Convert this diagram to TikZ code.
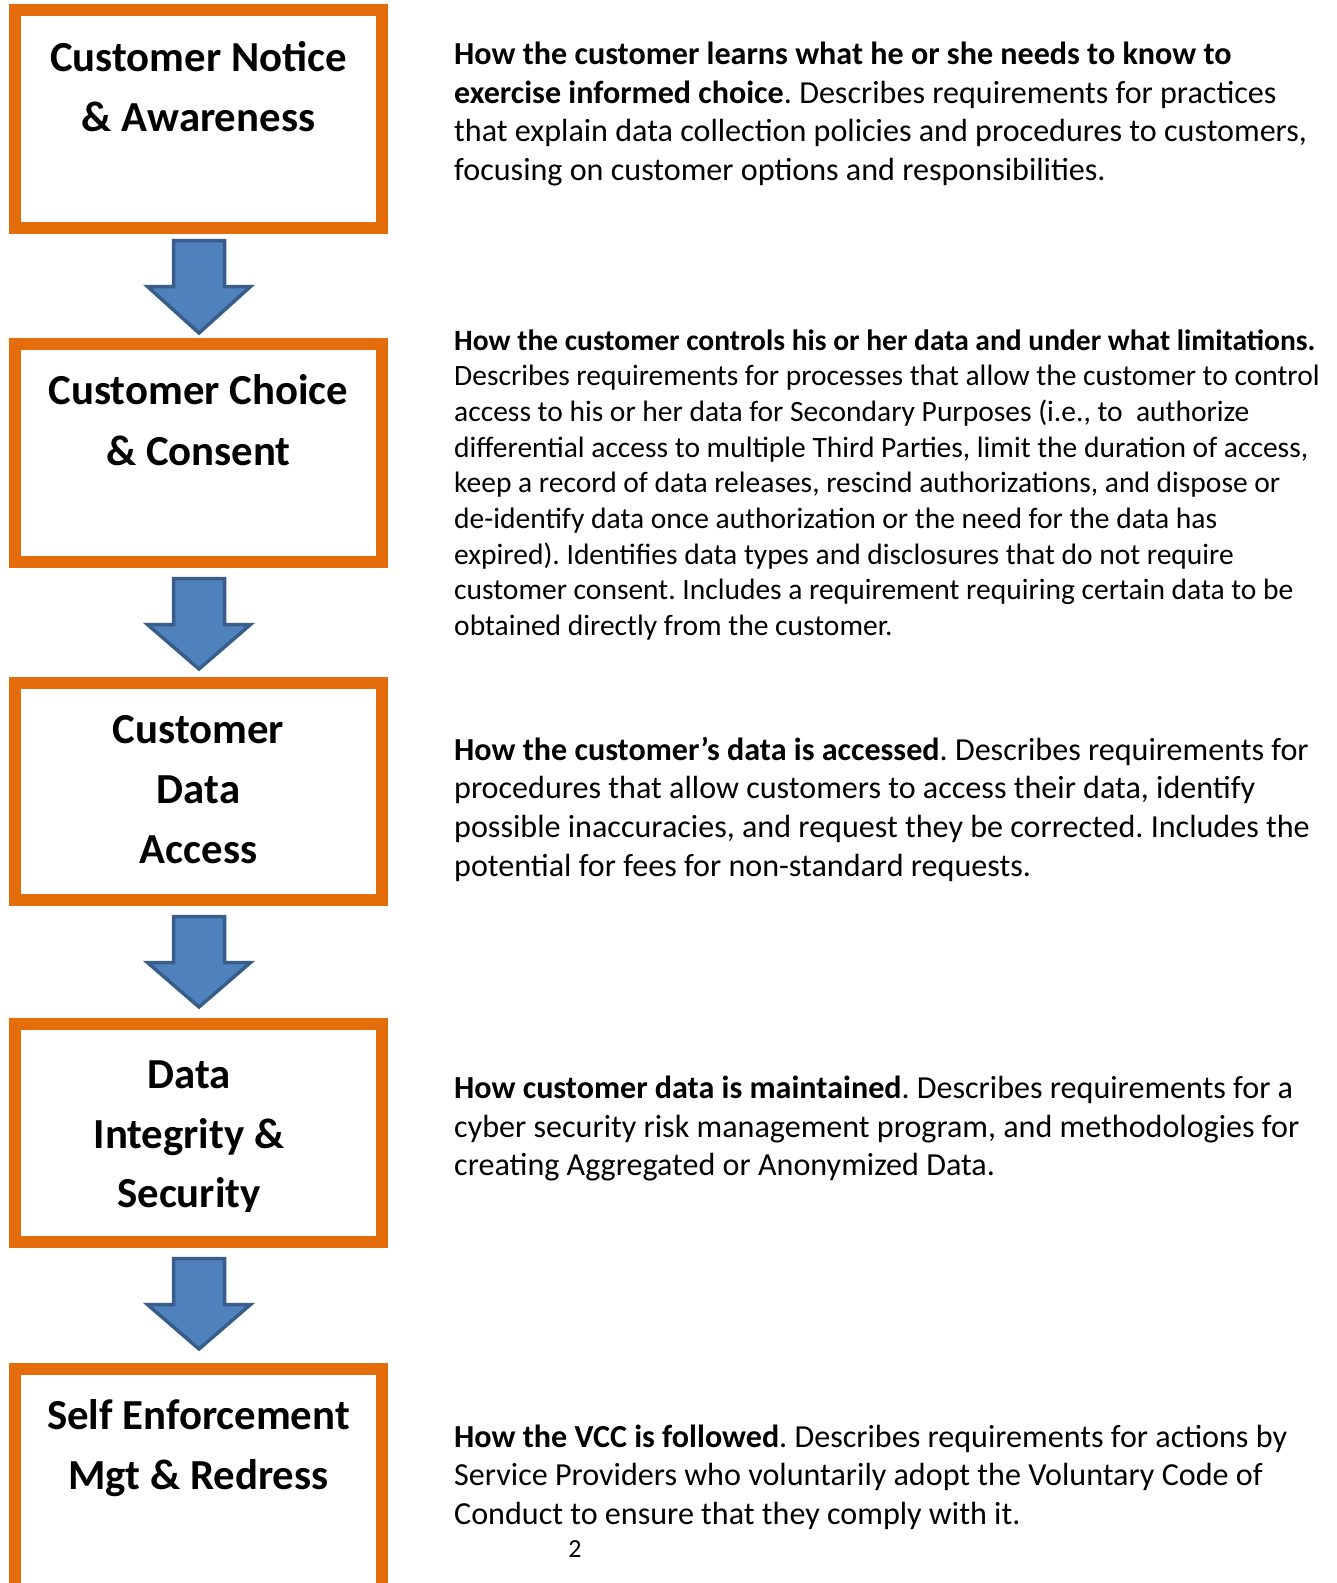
\documentclass[tikz,border=0pt]{standalone}
\usepackage{fontspec}
\setmainfont{Carlito}
\frenchspacing
\definecolor{boxorange}{RGB}{228,108,10}
\definecolor{arrowfill}{RGB}{79,129,189}
\definecolor{arrowline}{RGB}{56,93,138}
\tikzset{
  stagebox/.style={draw=boxorange, line width=12pt, fill=white, rectangle,
    minimum width=367pt, inner sep=0pt, outer sep=0pt},
  downarrow/.style={fill=arrowfill, draw=arrowline, line width=3.5pt, line join=miter},
  titletext/.style={font=\fontsize{42.8}{50}\selectfont\bfseries, anchor=base, inner sep=0pt},
  bodytext/.style={font=\fontsize{32.1}{38}\selectfont, anchor=base west, inner sep=0pt},
  smalltext/.style={font=\fontsize{29.5}{35}\selectfont, anchor=base west, inner sep=0pt},
}
\newcommand{\flowarrow}[2]{%
  \draw[downarrow] (173.5,#1) -- (224.5,#1) -- (224.5,#1+46) -- (250.5,#1+46)
    -- (199,#2) -- (147.5,#1+46) -- (173.5,#1+46) -- cycle;}
\begin{document}
\begin{tikzpicture}[x=1pt,y=-1pt]
\clip (0,0) rectangle (1337,1583);
\fill[white] (0,0) rectangle (1337,1583);

% boxes
\node[stagebox, minimum height=218pt] (box1) at (198.5,119) {};
\node[stagebox, minimum height=218pt] (box2) at (198.5,453) {};
\node[stagebox, minimum height=217pt] (box3) at (198.5,791.5) {};
\node[stagebox, minimum height=218pt] (box4) at (198.5,1133) {};
\node[stagebox, minimum height=240pt] (box5) at (198.5,1489) {};

% arrows
\flowarrow{240.5}{333}
\flowarrow{578.5}{669}
\flowarrow{916.5}{1007}
\flowarrow{1258.5}{1349}

% titles
\node[titletext] (t1a) at (198.5,71.5) {Customer Notice};
\node[titletext] (t1b) at (198.5,131) {\& Awareness};
\node[titletext] (t2a) at (198.5,404.5) {Customer Choice};
\node[titletext] (t2b) at (198.5,465) {\& Consent};
\node[titletext] (t3a) at (198.5,743.5) {Customer};
\node[titletext] (t3b) at (198.5,803) {Data};
\node[titletext] (t3c) at (198.5,863) {Access};
\begin{scope}
  \clip (21,1030) rectangle (377,1211);
  \node[titletext] (t4a) at (189,1088.5) {Data};
  \node[titletext] (t4b) at (189,1148) {Integrity \&};
  \node[titletext] (t4c) at (189,1207.5) {Security};
\end{scope}
\node[titletext] (t5a) at (198.5,1429.5) {Self Enforcement};
\node[titletext] (t5b) at (198.5,1489) {Mgt \& Redress};

% block 1
\node[bodytext] (d1a) at (454,64.5) {\textbf{How the customer learns what he or she needs to know to}};
\node[bodytext] (d1b) at (454,103.1) {\textbf{exercise informed choice}. Describes requirements for practices};
\node[bodytext] (d1c) at (454,141.7) {that explain data collection policies and procedures to customers,};
\node[bodytext] (d1d) at (454,180.3) {focusing on customer options and responsibilities.};

% block 2
\node[smalltext] (d2a) at (454,350) {\textbf{How the customer controls his or her data and under what limitations.}};
\node[smalltext] (d2b) at (454,385.7) {Describes requirements for processes that allow the customer to control};
\node[smalltext] (d2c) at (454,421.4) {access to his or her data for Secondary Purposes (i.e., to\ \ authorize};
\node[smalltext] (d2d) at (454,457.1) {differential access to multiple Third Parties, limit the duration of access,};
\node[smalltext] (d2e) at (454,492.8) {keep a record of data releases, rescind authorizations, and dispose or};
\node[smalltext] (d2f) at (454,528.5) {de-identify data once authorization or the need for the data has};
\node[smalltext] (d2g) at (454,564.2) {expired). Identifies data types and disclosures that do not require};
\node[smalltext] (d2h) at (454,599.9) {customer consent. Includes a requirement requiring certain data to be};
\node[smalltext] (d2i) at (454,635.6) {obtained directly from the customer.};

% block 3
\node[bodytext] (d3a) at (454,760) {\textbf{How the customer’s data is accessed}. Describes requirements for};
\node[bodytext] (d3b) at (454,798.7) {procedures that allow customers to access their data, identify};
\node[bodytext] (d3c) at (454,837.4) {possible inaccuracies, and request they be corrected. Includes the};
\node[bodytext] (d3d) at (454,876.1) {potential for fees for non-standard requests.};

% block 4
\node[bodytext] (d4a) at (454,1098.5) {\textbf{How customer data is maintained}. Describes requirements for a};
\node[bodytext] (d4b) at (454,1137.2) {cyber security risk management program, and methodologies for};
\node[bodytext] (d4c) at (454,1175.9) {creating Aggregated or Anonymized Data.};

% block 5
\node[bodytext] (d5a) at (454,1447) {\textbf{How the VCC is followed}. Describes requirements for actions by};
\node[bodytext] (d5b) at (454,1485.7) {Service Providers who voluntarily adopt the Voluntary Code of};
\node[bodytext] (d5c) at (454,1524.4) {Conduct to ensure that they comply with it.};

% page number
\node[font=\fontsize{26}{30}\selectfont, anchor=base, inner sep=0pt] (pg) at (575,1557) {2};
\end{tikzpicture}
\end{document}
